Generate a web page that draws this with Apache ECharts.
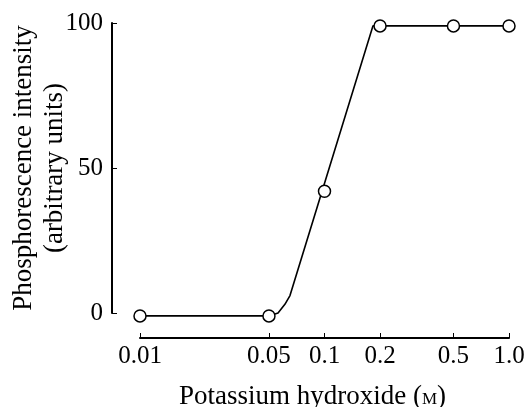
<!DOCTYPE html>
<html>
<head>
<meta charset="utf-8">
<script src="https://cdn.jsdelivr.net/npm/echarts@6/dist/echarts.min.js"></script>
<style>
  html, body { margin: 0; padding: 0; background: #fff; }
  #chart { width: 530px; height: 407px; }
</style>
</head>
<body>
<div id="chart"></div>
<script>
// measured points (KOH concentration in M, phosphorescence in arbitrary units)
const concentrations = [0.01, 0.05, 0.1, 0.2, 0.5, 1.0];
const intensities = [-1, -1, 42, 99, 99, 99];

// hand drawn curve, knots
const curveX = [0.01, 0.05, 0.056, 0.061, 0.065, 0.183, 1.0];
const curveY = [-1, -1, 0, 3, 6, 99, 99];

const xTicks = [0.01, 0.05, 0.1, 0.2, 0.5, 1.0];
const xTickLabels = ['0.01', '0.05', '0.1', '0.2', '0.5', '1.0'];
const yTicks = [0, 50, 100];

const lg = v => Math.log10(v);
const serif = "'Liberation Serif', 'Times New Roman', 'DejaVu Serif', serif";

const chart = echarts.init(document.getElementById('chart'));

chart.setOption({
  animation: false,
  backgroundColor: '#fff',
  textStyle: { fontFamily: serif },
  grid: {
    left: 140,
    right: 21,
    top: 23,
    bottom: 94,
    containLabel: false,
    outerBoundsMode: 'none'
  },
  xAxis: {
    type: 'value',
    min: lg(0.01),
    max: lg(1),
    offset: 25,
    name: 'Potassium hydroxide ({sc|M})',
    nameLocation: 'middle',
    nameGap: 45,
    nameMoveOverlap: false,
    nameTextStyle: {
      color: '#000',
      fontFamily: serif,
      fontSize: 27,
      padding: [0, 24, 0, 0],
      rich: {
        sc: { fontFamily: serif, fontSize: 17, color: '#000', padding: [6, 0, 0, 0] }
      }
    },
    axisLine: { show: true, onZero: false, lineStyle: { color: '#000', width: 2 } },
    axisTick: {
      show: true,
      inside: true,
      length: 5,
      customValues: xTicks.map(lg),
      lineStyle: { color: '#000', width: 1 }
    },
    axisLabel: {
      customValues: xTicks.map(lg),
      margin: 6,
      color: '#000',
      fontFamily: serif,
      fontSize: 25,
      formatter: function (v) {
        for (let i = 0; i < xTicks.length; i++) {
          if (Math.abs(lg(xTicks[i]) - v) < 1e-6) return xTickLabels[i];
        }
        return '';
      }
    },
    splitLine: { show: false }
  },
  yAxis: {
    type: 'value',
    min: 0,
    max: 100,
    interval: 50,
    offset: 28,
    name: 'Phosphorescence intensity\n(arbitrary units)',
    nameLocation: 'middle',
    nameRotate: 90,
    nameGap: 42,
    nameMoveOverlap: false,
    nameTextStyle: {
      color: '#000',
      fontFamily: serif,
      fontSize: 27,
      lineHeight: 31,
      align: 'center'
    },
    axisLine: { show: true, onZero: false, lineStyle: { color: '#000', width: 2 } },
    axisTick: { show: true, inside: true, length: 5, lineStyle: { color: '#000', width: 1 } },
    axisLabel: {
      margin: 9,
      color: '#000',
      fontFamily: serif,
      fontSize: 25
    },
    splitLine: { show: false }
  },
  series: [
    {
      name: 'curve',
      type: 'line',
      clip: false,
      showSymbol: false,
      symbol: 'none',
      lineStyle: { color: '#000', width: 1.6 },
      data: curveX.map((x, i) => [lg(x), curveY[i]]),
      z: 2
    },
    {
      name: 'measured',
      type: 'scatter',
      clip: false,
      symbol: 'circle',
      symbolSize: 12,
      itemStyle: { color: '#fff', borderColor: '#000', borderWidth: 1.5, opacity: 1 },
      data: concentrations.map((x, i) => [lg(x), intensities[i]]),
      z: 3
    }
  ]
});
</script>
</body>
</html>
